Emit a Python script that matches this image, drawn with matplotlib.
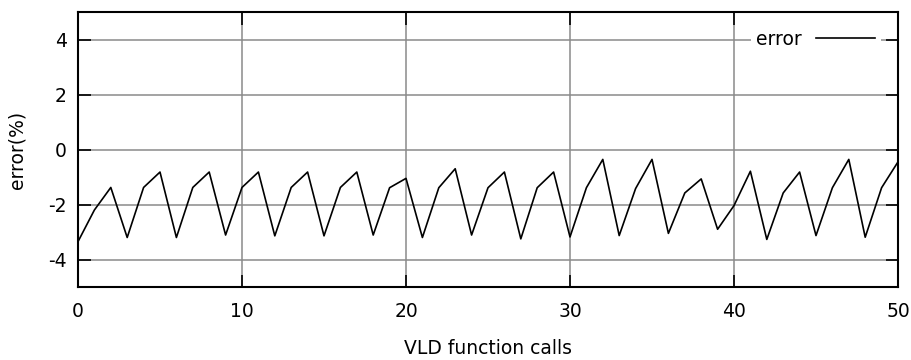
import matplotlib
matplotlib.use("Agg")
import matplotlib.pyplot as plt
from matplotlib.lines import Line2D

# VLD function call index and measured error (%)
calls = list(range(51))
error = [
    -3.35, -2.20, -1.38, -3.20, -1.38, -0.82, -3.20, -1.38, -0.82, -3.11,
    -1.38, -0.82, -3.14, -1.38, -0.82, -3.14, -1.38, -0.82, -3.11, -1.39,
    -1.05, -3.20, -1.39, -0.70, -3.11, -1.39, -0.82, -3.25, -1.39, -0.82,
    -3.18, -1.39, -0.36, -3.13, -1.42, -0.36, -3.05, -1.58, -1.07, -2.90,
    -2.04, -0.79, -3.27, -1.58, -0.82, -3.13, -1.39, -0.36, -3.19, -1.39,
    -0.45,
]
x_ticks = [0, 10, 20, 30, 40, 50]
y_ticks = [-4, -2, 0, 2, 4]

plt.rcParams["font.family"] = "DejaVu Sans"
plt.rcParams["font.size"] = 13.5
plt.rcParams["axes.unicode_minus"] = False  # gnuplot uses plain hyphens

fig = plt.figure(figsize=(9.12, 3.6), dpi=100)
ax = fig.add_axes([78 / 912, 1 - 287 / 360, 820 / 912, 275 / 360])

ax.plot(calls, error, color="black", lw=1.2)

ax.set_xlim(0, 50)
ax.set_ylim(-5, 5)
ax.set_xticks(x_ticks)
ax.set_yticks(y_ticks)
ax.grid(True, color="#8a8a8a", lw=1.1)
ax.set_axisbelow(True)

for s in ax.spines.values():
    s.set_linewidth(1.5)
ax.tick_params(direction="in", length=9, width=1.2, top=True, right=True,
               labelsize=13.5)
ax.tick_params(axis="x", pad=11)
ax.tick_params(axis="y", pad=8)

ax.set_xlabel("VLD function calls", fontsize=13.5, labelpad=13)
ax.set_ylabel("error(%)", fontsize=13.5, labelpad=16)

handle = Line2D([], [], color="black", lw=1.2)
leg = ax.legend([handle], ["error"], loc="center right",
                bbox_to_anchor=(1.0 - 17 / 820, 0.9), borderaxespad=0,
                markerfirst=False, handlelength=3.15, handletextpad=0.75,
                borderpad=0.3, fancybox=False, framealpha=1,
                facecolor="white", edgecolor="none", fontsize=13.5)

fig.savefig("out.png", dpi=100)
